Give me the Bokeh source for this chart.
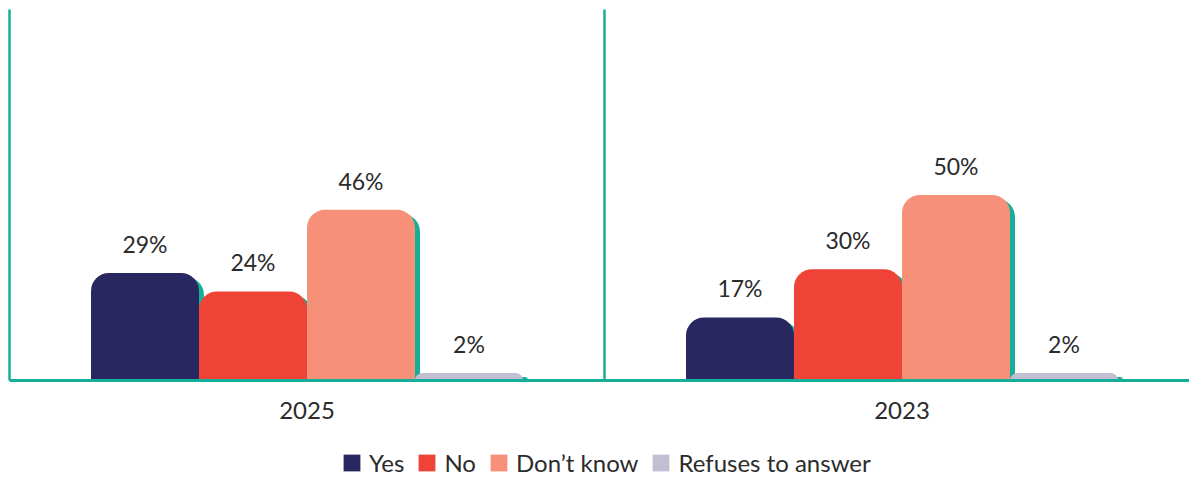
from bokeh.plotting import figure
from bokeh.models import Range1d, Legend, LegendItem, ColumnDataSource
from bokeh.core.properties import value
from bokeh.embed import file_html
from bokeh.resources import INLINE

# ---- data ----
years = ["2025", "2023"]
categories = ["Yes", "No", "Don’t know", "Refuses to answer"]
yes = [29, 17]
no = [24, 30]
dont_know = [46, 50]
refuses = [2, 2]
series = [yes, no, dont_know, refuses]
colors = ["#29275F", "#EF4337", "#F69078", "#C3BED2"]
teal = "#15AE98"
text_color = "#2B2B2B"
FONT = "Lato"

W, H = 1189, 479
px_per_x = 595.0
px_per_y = 3.71
base_px = 380  # canvas px from top for y = 0
left_px = 9    # canvas px for x = 0

x_start = -left_px / px_per_x
x_end = x_start + W / px_per_x
y_end = base_px / px_per_y
y_start = -(H - base_px) / px_per_y

p = figure(width=W, height=H, output_backend="svg", toolbar_location=None,
           x_range=Range1d(x_start, x_end), y_range=Range1d(y_start, y_end),
           x_axis_location=None, y_axis_location=None,
           min_border=0, min_border_left=0, min_border_right=0,
           min_border_top=0, min_border_bottom=0)
p.grid.visible = False
p.outline_line_color = None
p.background_fill_color = "white"

bw = 108 / px_per_x
offsets = [-1.5, -0.5, 0.5, 1.5]
dx_sh = 5 / px_per_x
dy_sh = 4 / px_per_y
top_px = 9  # top of vertical lines

# shadows first
for k, vals in enumerate(series):
    xs = [g + 0.5 + offsets[k] * bw + dx_sh for g in range(len(years))]
    tops = [max(v - dy_sh, 0.3) for v in vals]
    p.vbar(x=xs, top=tops, bottom=0, width=bw, fill_color=teal, line_color=None,
           border_radius=(18, 18, 0, 0))

renderers = []
for k, vals in enumerate(series):
    xs = [g + 0.5 + offsets[k] * bw for g in range(len(years))]
    r = p.vbar(x=xs, top=vals, bottom=0, width=bw, fill_color=colors[k],
               line_color=None, border_radius=(18, 18, 0, 0))
    renderers.append(r)
    lab = ColumnDataSource(dict(x=xs, y=[v + 15 / px_per_y for v in vals],
                                t=[f"{v}%" for v in vals]))
    p.text(x="x", y="y", text="t", source=lab, text_align="center",
           text_baseline="bottom", text_font=value(FONT),
           text_font_size="23px", text_color=text_color)

# axis lines
y_line_top = (base_px - top_px) / px_per_y
p.segment(x0=[0], y0=[0], x1=[0], y1=[y_line_top], line_color=teal, line_width=2.5)
p.segment(x0=[1], y0=[0], x1=[1], y1=[y_line_top], line_color=teal, line_width=2.5)
p.segment(x0=[0], y0=[0], x1=[x_end], y1=[0], line_color=teal, line_width=3)

# category labels
p.text(x=[g + 0.5 for g in range(len(years))], y=[-30 / px_per_y] * len(years),
       text=years, text_align="center", text_baseline="middle",
       text_font=value(FONT), text_font_size="24px", text_color=text_color)

legend = Legend(items=[LegendItem(label=c, renderers=[renderers[i]])
                       for i, c in enumerate(categories)],
                location=(341, 2), orientation="horizontal",
                glyph_width=21, glyph_height=21, label_standoff=7, spacing=12,
                padding=2, margin=0, border_line_color=None,
                background_fill_alpha=0,
                label_text_font=FONT, label_text_font_size="24px",
                label_text_color=text_color)
p.add_layout(legend, "center")

open("out.html", "w").write(file_html(p, INLINE))
